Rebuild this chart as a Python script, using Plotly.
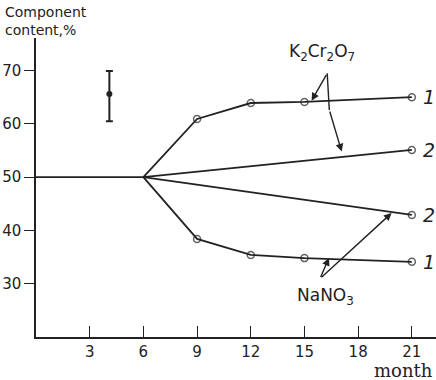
import plotly.graph_objects as go

# ---- data ----
base_x = [0, 6]
base_y = [50, 50]

k_line1_x = [6, 9, 12, 15, 21]
k_line1_y = [50, 60.9, 63.9, 64.1, 65.0]

k_line2_x = [6, 21]
k_line2_y = [50, 55.1]

na_line2_x = [6, 21]
na_line2_y = [50, 42.9]

na_line1_x = [6, 9, 12, 15, 21]
na_line1_y = [50, 38.4, 35.4, 34.8, 34.1]

err_x = [4.1]
err_y = [65.6]
err_plus = [4.3]
err_minus = [5.1]

x_ticks = [3, 6, 9, 12, 15, 18, 21]
y_ticks = [30, 40, 50, 60, 70]

INK = "#222222"
FONT = "DejaVu Sans"

fig = go.Figure()

fig.add_trace(go.Scatter(x=base_x, y=base_y, mode="lines",
                         line=dict(color=INK, width=1.8), showlegend=False))

for xs, ys in [(k_line1_x, k_line1_y), (na_line1_x, na_line1_y)]:
    fig.add_trace(go.Scatter(
        x=xs, y=ys, mode="lines+markers",
        line=dict(color=INK, width=1.8),
        marker=dict(symbol="circle-open", size=[0] + [7] * (len(xs) - 1),
                    color=INK, line=dict(width=1.5, color=INK)),
        showlegend=False))

for xs, ys in [(k_line2_x, k_line2_y), (na_line2_x, na_line2_y)]:
    fig.add_trace(go.Scatter(
        x=xs, y=ys, mode="lines+markers",
        line=dict(color=INK, width=1.8),
        marker=dict(symbol="circle-open", size=[0, 7],
                    color=INK, line=dict(width=1.5, color=INK)),
        showlegend=False))

fig.add_trace(go.Scatter(
    x=err_x, y=err_y, mode="markers",
    marker=dict(color=INK, size=6),
    error_y=dict(type="data", symmetric=False, array=err_plus, arrayminus=err_minus,
                 color=INK, thickness=2, width=3.5),
    showlegend=False))

annotations = []

# curve labels
for xs, ys, lab in [(k_line1_x, k_line1_y, "1"), (k_line2_x, k_line2_y, "2"),
                    (na_line2_x, na_line2_y, "2"), (na_line1_x, na_line1_y, "1")]:
    annotations.append(dict(x=xs[-1], y=ys[-1], text="<i>" + lab + "</i>", showarrow=False,
                            xanchor="left", yanchor="middle", xshift=9,
                            font=dict(family=FONT, size=19, color=INK)))

# compound labels
annotations.append(dict(x=15.98, y=73.3, text="K<sub>2</sub>Cr<sub>2</sub>O<sub>7</sub>",
                        showarrow=False, xanchor="center", yanchor="middle",
                        font=dict(family=FONT, size=17, color=INK)))
annotations.append(dict(x=16.2, y=27.6, text="NaNO<sub>3</sub>",
                        showarrow=False, xanchor="center", yanchor="middle",
                        font=dict(family=FONT, size=17, color=INK)))

arrow_common = dict(xref="x", yref="y", axref="x", ayref="y", text="", showarrow=True,
                    arrowhead=2, arrowsize=1.1, arrowwidth=1.4, arrowcolor=INK)
# K2Cr2O7 arrows
annotations.append(dict(x=15.40, y=64.34, ax=16.27, ay=69.48, **arrow_common))
annotations.append(dict(x=17.08, y=54.79, ax=16.39, ay=62.60, **arrow_common))
# NaNO3 arrows
annotations.append(dict(x=16.37, y=34.83, ax=15.87, ay=30.96, **arrow_common))
annotations.append(dict(x=19.87, y=43.26, ax=15.87, ay=30.96, **arrow_common))

# axis titles
annotations.append(dict(xref="paper", yref="paper", x=-0.083, y=1.12,
                        text="Component<br>content,%", showarrow=False,
                        xanchor="left", yanchor="top", align="left",
                        font=dict(family=FONT, size=14, color=INK)))
annotations.append(dict(xref="paper", yref="paper", x=0.997, y=-0.112,
                        text="month", showarrow=False,
                        xanchor="right", yanchor="middle",
                        font=dict(family="DejaVu Serif", size=18, color=INK)))

fig.update_layout(
    width=436, height=380,
    margin=dict(l=36, r=0, t=38, b=43),
    paper_bgcolor="white", plot_bgcolor="white",
    annotations=annotations,
    shapes=[dict(type="line", xref="x", yref="y", x0=16.27, y0=69.48, x1=16.39, y1=62.60,
                 line=dict(color=INK, width=1.4))],
    xaxis=dict(range=[0, 22.35], tickvals=x_ticks, ticks="inside", ticklen=11,
               tickwidth=1.3, tickcolor=INK, showline=True, linecolor=INK, linewidth=1.5,
               showgrid=False, zeroline=False,
               tickfont=dict(family=FONT, size=15, color=INK)),
    yaxis=dict(range=[20, 76.1], tickvals=y_ticks, ticks="outside", ticklen=10,
               tickwidth=1.3, tickcolor=INK, showline=True, linecolor=INK, linewidth=1.5,
               showgrid=False, zeroline=False,
               tickfont=dict(family=FONT, size=15, color=INK)),
)

fig.write_html("out.html", config={"displayModeBar": False},
               post_script="document.body.style.margin='0';")
